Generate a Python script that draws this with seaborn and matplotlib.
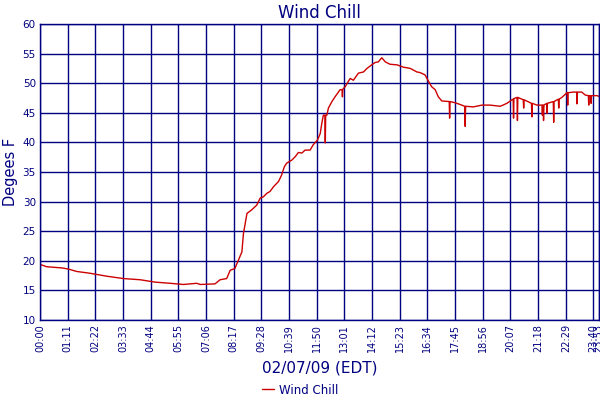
import matplotlib
matplotlib.use("Agg")
import matplotlib.pyplot as plt
import seaborn as sns
import pandas as pd

# time of reading, minutes after midnight
minutes = [0, 17, 56, 73, 94, 128, 171, 214, 257, 295, 334, 368, 402, 411, 449,
           462, 479, 488, 500, 509, 518, 522, 531, 543, 556, 565, 573, 582, 590,
           599, 612, 620, 627, 633, 646, 655, 663, 672, 680, 693, 701, 712, 719,
           723, 727, 731, 732, 733, 736, 740, 749, 757, 770, 775, 776, 777, 783,
           791, 796, 804, 817, 830, 839, 851, 860, 868, 877, 886, 898, 916, 933,
           950, 967, 975, 988, 997, 1005, 1014, 1022, 1031, 1048, 1050, 1051,
           1052, 1065, 1078, 1090, 1091, 1092, 1112, 1134, 1155, 1181, 1198,
           1211, 1214, 1215, 1216, 1224, 1225, 1226, 1240, 1241, 1242, 1258,
           1261, 1262, 1263, 1275, 1288, 1289, 1290, 1291, 1292, 1293, 1300,
           1301, 1302, 1317, 1318, 1319, 1330, 1331, 1332, 1339, 1352, 1353,
           1354, 1355, 1369, 1377, 1378, 1379, 1390, 1399, 1407, 1408, 1409,
           1413, 1414, 1415, 1429, 1433]
wind_chill = [19.4, 19.0, 18.8, 18.6, 18.2, 17.9, 17.4, 17.0, 16.8, 16.4, 16.2,
              16.0, 16.2, 16.0, 16.1, 16.8, 17.0, 18.4, 18.7, 20.1, 21.5, 24.6,
              28.0, 28.6, 29.4, 30.6, 30.8, 31.4, 31.7, 32.5, 33.4, 34.5, 35.9,
              36.5, 37.0, 37.6, 38.3, 38.2, 38.7, 38.7, 39.6, 40.4, 41.5, 43.2,
              44.6, 44.6, 39.9, 44.6, 44.6, 45.8, 46.9, 47.7, 48.9, 48.9, 47.7,
              49.0, 49.4, 50.3, 50.8, 50.5, 51.7, 51.9, 52.5, 53.1, 53.5, 53.6,
              54.3, 53.6, 53.2, 53.1, 52.7, 52.5, 51.9, 51.8, 51.4, 50.3, 49.4,
              48.9, 47.7, 47.0, 46.9, 46.9, 44.1, 46.9, 46.7, 46.4, 46.1, 42.7,
              46.1, 46.0, 46.3, 46.3, 46.1, 46.6, 47.2, 47.3, 44.1, 47.4, 47.6,
              43.7, 47.6, 47.2, 45.8, 47.2, 46.7, 46.6, 44.3, 46.6, 46.3, 46.3,
              44.6, 46.3, 46.3, 43.7, 46.3, 46.6, 44.9, 46.6, 46.9, 43.4, 46.9,
              47.3, 45.8, 47.3, 47.6, 48.4, 48.4, 46.3, 48.4, 48.5, 48.5, 46.5,
              48.5, 48.5, 48.0, 47.9, 46.3, 47.9, 47.9, 46.6, 47.9, 47.9, 47.8]

tick_minutes = [0, 71, 142, 213, 284, 355, 426, 497, 568, 639, 710, 781, 852,
                923, 994, 1065, 1136, 1207, 1278, 1349, 1420, 1433]
tick_labels = ["00:00", "01:11", "02:22", "03:33", "04:44", "05:55", "07:06",
               "08:17", "09:28", "10:39", "11:50", "13:01", "14:12", "15:23",
               "16:34", "17:45", "18:56", "20:07", "21:18", "22:29", "23:40",
               "23:53"]
y_ticks = [10, 15, 20, 25, 30, 35, 40, 45, 50, 55, 60]

navy = "#000080"
red = "#CC0000"

sns.set_style("white")
plt.rcParams["font.family"] = ["DejaVu Sans"]

df = pd.DataFrame({"minute": minutes, "Wind Chill": wind_chill})

fig = plt.figure(figsize=(6, 4), dpi=100)
ax = fig.add_axes([40 / 600, 80 / 400, 558.5 / 600, 296 / 400])

sns.lineplot(data=df, x="minute", y="Wind Chill", ax=ax, color=red,
             linewidth=1.0, label="Wind Chill", legend=False)

ax.set_xlim(0, 1433)
ax.set_ylim(10, 60)
ax.set_xticks(tick_minutes)
ax.set_xticklabels(tick_labels, rotation=90, fontsize=7, color=navy)
ax.set_yticks(y_ticks)
ax.set_yticklabels([str(v) for v in y_ticks], fontsize=7.5, color=navy)
ax.tick_params(axis="both", length=0, pad=3)
ax.grid(True, color=navy, linewidth=1)
ax.set_axisbelow(True)
for s in ax.spines.values():
    s.set_color(navy)
    s.set_linewidth(1)

ax.set_title("Wind Chill", fontsize=12, color=navy, pad=4)
ax.set_ylabel("Degees F", fontsize=10.5, color=navy, labelpad=3)
ax.set_xlabel("02/07/09 (EDT)", fontsize=11, color=navy, labelpad=6)

handles, labels = ax.get_legend_handles_labels()
leg = fig.legend(handles, labels, loc="center", bbox_to_anchor=(0.5, 10 / 400),
                 frameon=False, fontsize=8.5, handlelength=1.0,
                 handletextpad=0.4, borderaxespad=0)
for t in leg.get_texts():
    t.set_color(navy)

fig.savefig("out.png", dpi=100)
